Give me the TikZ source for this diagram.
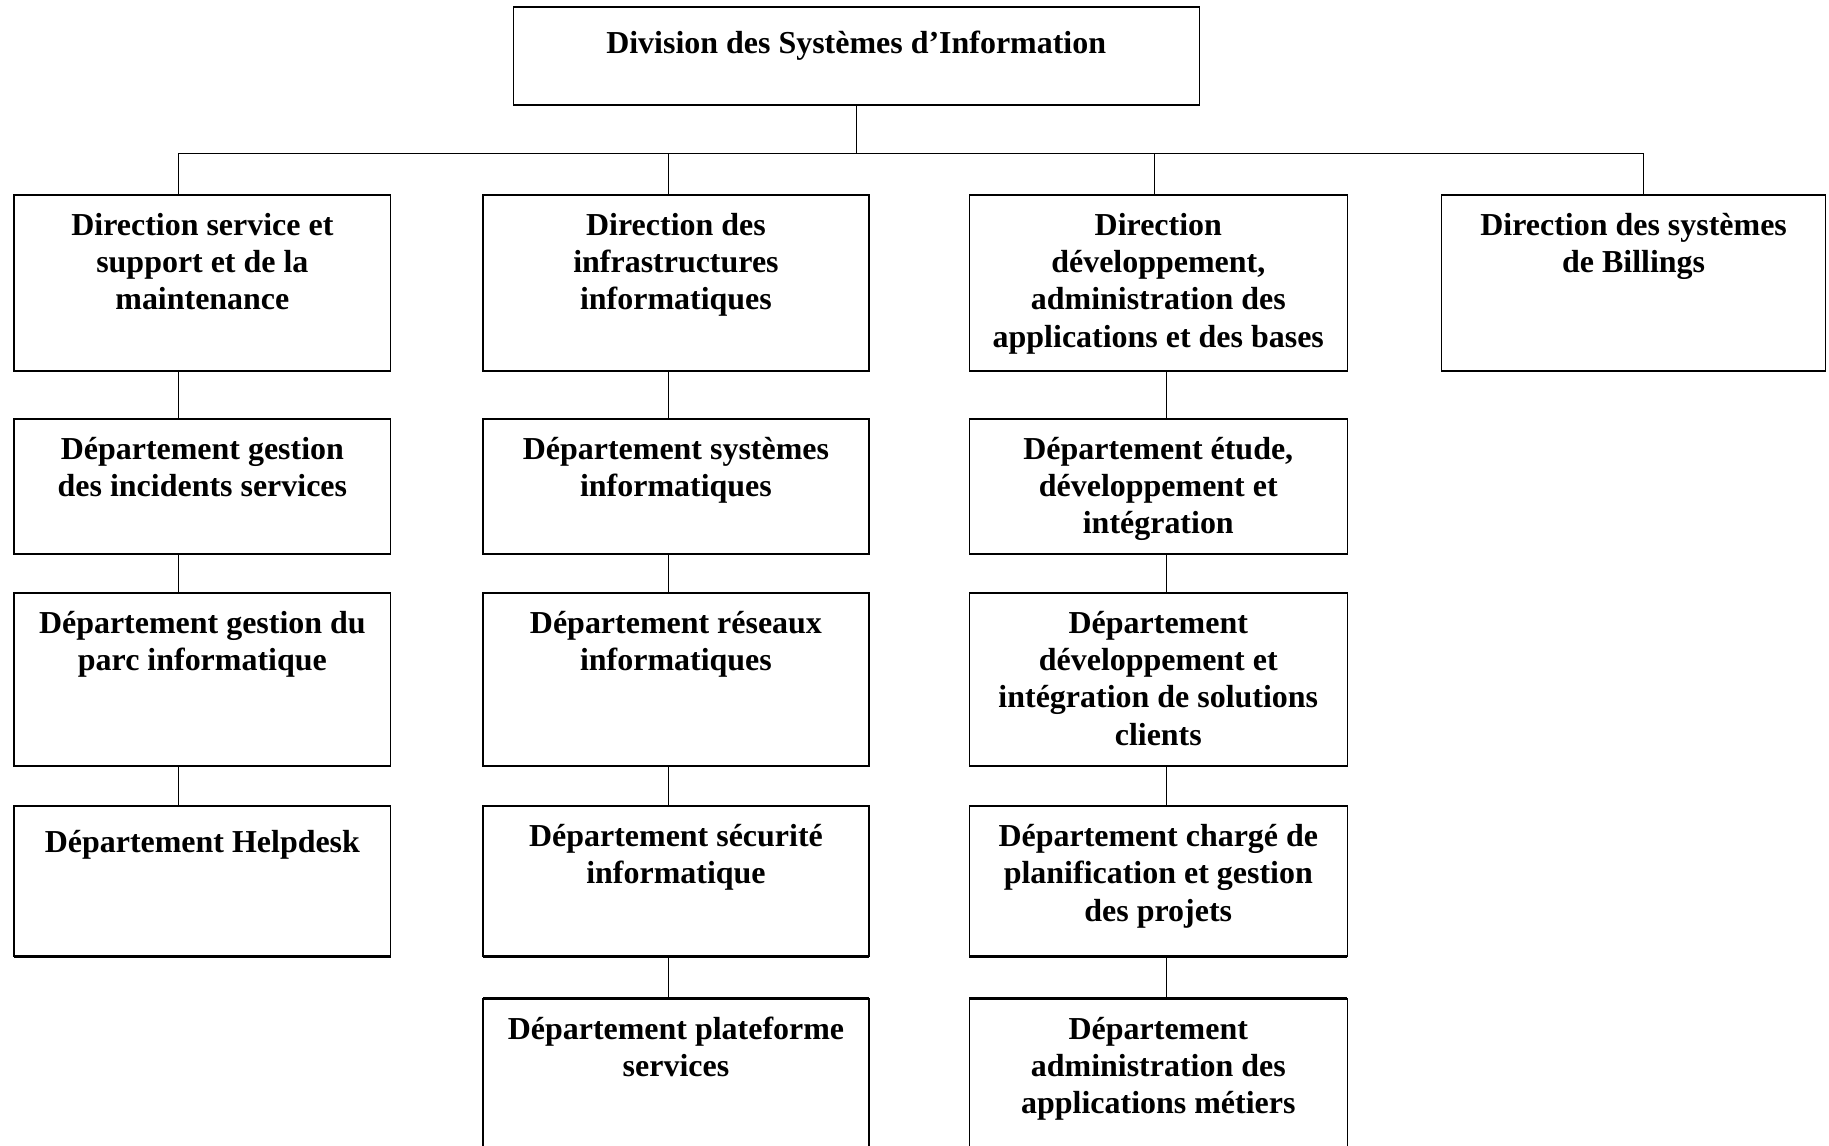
\documentclass[tikz,border=0pt]{standalone}
\usepackage{fontspec}
\setmainfont{Liberation Serif}
\usetikzlibrary{calc}

% One box of the chart: name, centre x, centre y, width, height, text
\newcommand{\orgbox}[6]{%
  \node[box, minimum width=#4pt, minimum height=#5pt] (#1) at (#2,#3) {};
  \draw[rim] (#1.north west) -- (#1.north east) (#1.south west) -- (#1.south east);
  \node[lbl] (#1-t) at ($(#1.north)+(0,15.5)$) {#6};
}

\begin{document}
\begin{tikzpicture}[x=1pt,y=-1pt,
  box/.style={draw, line width=1pt, inner sep=0pt, outer sep=0pt},
  rim/.style={line width=1.8pt},
  lbl/.style={anchor=north, align=center, inner sep=0pt,
    font=\fontsize{27.4}{32}\selectfont\bfseries,
    execute at begin node=\rule{0pt}{24pt}},
  link/.style={line width=0.9pt}]

\useasboundingbox (0,0) rectangle (1568,982);

% head of the division
\orgbox{top}{734}{48}{588}{84}{Division des Systèmes d’Information}

% directions
\orgbox{d1}{173.5}{242.5}{323}{151}{Direction service et\\support et de la\\maintenance}
\orgbox{d2}{579.5}{242.5}{331}{151}{Direction des\\infrastructures\\informatiques}
\orgbox{d3}{993}{242.5}{324}{151}{Direction\\développement,\\administration des\\applications et des bases}
\orgbox{d4}{1400.5}{242.5}{329}{151}{Direction des systèmes\\de Billings}

% departments, first column
\orgbox{a1}{173.5}{417}{323}{116}{Département gestion\\des incidents services}
\orgbox{a2}{173.5}{582.5}{323}{149}{Département gestion du\\parc informatique}
\orgbox{a3}{173.5}{755.5}{323}{129}{Département Helpdesk}

% departments, second column
\orgbox{b1}{579.5}{417}{331}{116}{Département systèmes\\informatiques}
\orgbox{b2}{579.5}{582.5}{331}{149}{Département réseaux\\informatiques}
\orgbox{b3}{579.5}{755.5}{331}{129}{Département sécurité\\informatique}
\orgbox{b4}{579.5}{925.5}{331}{139}{Département plateforme\\services}

% departments, third column
\orgbox{c1}{993}{417}{324}{116}{Département étude,\\développement et\\intégration}
\orgbox{c2}{993}{582.5}{324}{149}{Département\\développement et\\intégration de solutions\\clients}
\orgbox{c3}{993}{755.5}{324}{129}{Département chargé de\\planification et gestion\\des projets}
\orgbox{c4}{993}{925.5}{324}{139}{Département\\administration des\\applications métiers}

% bus joining the directions
\coordinate (j1) at (153,132);
\coordinate (j2) at (573,132);
\coordinate (j3) at (990,132);
\coordinate (j4) at (1409,132);
\draw[link] (top.south) -- (top.south |- j1);
\draw[link] (j1) -- (j4);
\draw[link] (j1) -- (j1 |- d1.north);
\draw[link] (j2) -- (j2 |- d2.north);
\draw[link] (j3) -- (j3 |- d3.north);
\draw[link] (j4) -- (j4 |- d4.north);

% vertical chains under each direction
\coordinate (k1) at (153,0);
\coordinate (k2) at (573,0);
\coordinate (k3) at (1000,0);
\draw[link] (d1.south -| k1) -- (a1.north -| k1);
\draw[link] (a1.south -| k1) -- (a2.north -| k1);
\draw[link] (a2.south -| k1) -- (a3.north -| k1);
\draw[link] (d2.south -| k2) -- (b1.north -| k2);
\draw[link] (b1.south -| k2) -- (b2.north -| k2);
\draw[link] (b2.south -| k2) -- (b3.north -| k2);
\draw[link] (b3.south -| k2) -- (b4.north -| k2);
\draw[link] (d3.south -| k3) -- (c1.north -| k3);
\draw[link] (c1.south -| k3) -- (c2.north -| k3);
\draw[link] (c2.south -| k3) -- (c3.north -| k3);
\draw[link] (c3.south -| k3) -- (c4.north -| k3);
\end{tikzpicture}
\end{document}
